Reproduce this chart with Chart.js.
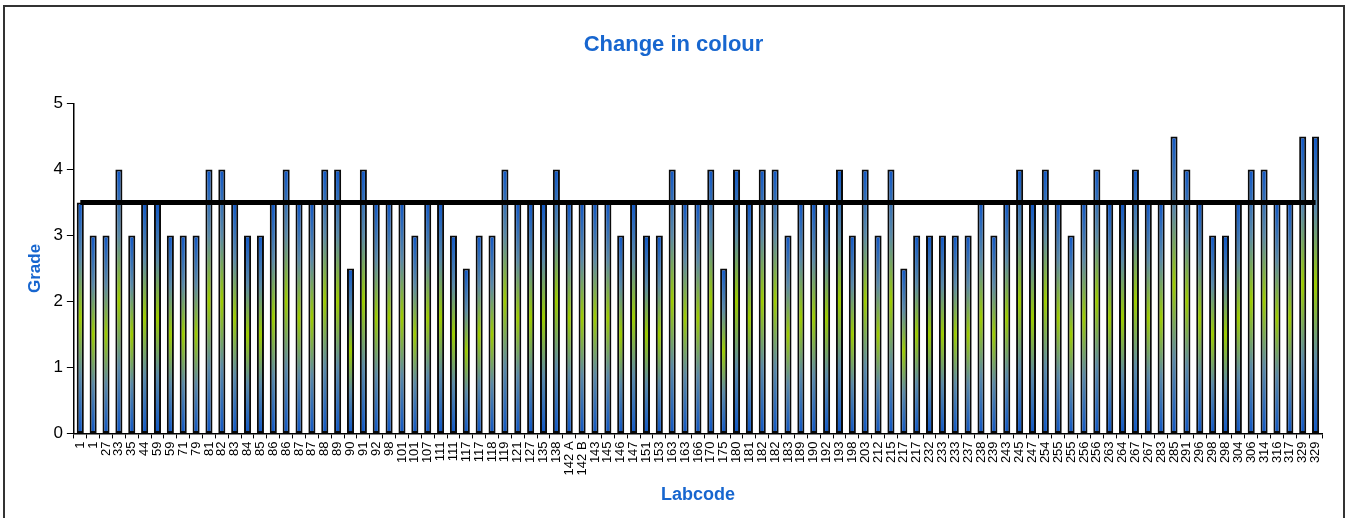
<!DOCTYPE html>
<html>
<head>
<meta charset="utf-8">
<title>Change in colour</title>
<script src="https://cdn.jsdelivr.net/npm/chart.js@4"></script>
<style>
  html, body { margin: 0; padding: 0; background: #fff; overflow: hidden; }
  #wrap { position: relative; width: 1353px; height: 518px; }
  #frame { position: absolute; left: 3px; top: 5px; width: 1342px; height: 520px; border: 2px solid #333; box-sizing: border-box; pointer-events: none; }
</style>
</head>
<body>
<div id="wrap">
  <canvas id="chart" width="1353" height="518"></canvas>
  <div id="frame"></div>
</div>
<script>
// Change in colour - grade per labcode

const labcodes = [
    '1', '1', '27', '33', '35', '44', '59', '59', '71', '79',
    '81', '82', '83', '84', '85', '86', '86', '87', '87', '88',
    '89', '90', '91', '92', '98', '101', '101', '107', '111', '111',
    '117', '117', '118', '119', '121', '127', '135', '138', '142 A', '142 B',
    '143', '145', '146', '147', '151', '153', '163', '163', '166', '170',
    '175', '180', '181', '182', '182', '183', '189', '190', '192', '193',
    '198', '203', '212', '215', '217', '217', '232', '233', '233', '237',
    '238', '239', '243', '245', '247', '254', '255', '255', '256', '256',
    '263', '264', '267', '267', '283', '285', '291', '296', '298', '298',
    '304', '306', '314', '316', '317', '329', '329'
];

const grades = [
    3.5, 3, 3, 4, 3, 3.5, 3.5, 3, 3, 3,
    4, 4, 3.5, 3, 3, 3.5, 4, 3.5, 3.5, 4,
    4, 2.5, 4, 3.5, 3.5, 3.5, 3, 3.5, 3.5, 3,
    2.5, 3, 3, 4, 3.5, 3.5, 3.5, 4, 3.5, 3.5,
    3.5, 3.5, 3, 3.5, 3, 3, 4, 3.5, 3.5, 4,
    2.5, 4, 3.5, 4, 4, 3, 3.5, 3.5, 3.5, 4,
    3, 4, 3, 4, 2.5, 3, 3, 3, 3, 3,
    3.5, 3, 3.5, 4, 3.5, 4, 3.5, 3, 3.5, 4,
    3.5, 3.5, 4, 3.5, 3.5, 4.5, 4, 3.5, 3, 3,
    3.5, 4, 4, 3.5, 3.5, 4.5, 4.5
];

// reference grade drawn as the thick black line
const targetGrade = 3.5;

const yTicks = [0, 1, 2, 3, 4, 5];

const BLUE = '#1158c6';
const GREEN = '#9ccc00';
const TITLE_BLUE = '#1766cf';
const FONT = '"Liberation Sans", Arial, sans-serif';

// Vertical gradient per bar: blue at the ends, yellow-green in the middle
function barFill(context) {
    const chart = context.chart;
    if (!chart.chartArea || context.type !== 'data') return BLUE;
    const y = chart.scales.y;
    const top = y.getPixelForValue(context.raw);
    const bottom = y.getPixelForValue(0);
    if (!isFinite(top) || !isFinite(bottom) || top === bottom) return BLUE;
    const g = chart.ctx.createLinearGradient(0, top, 0, bottom);
    g.addColorStop(0, BLUE);
    g.addColorStop(0.25, '#5a8aa8');
    g.addColorStop(0.5, GREEN);
    g.addColorStop(0.75, '#5a8aa8');
    g.addColorStop(1, BLUE);
    return g;
}

const ctx = document.getElementById('chart');

new Chart(ctx, {
    data: {
        labels: labcodes,
        datasets: [
            {
                type: 'line',
                label: 'Target',
                data: new Array(labcodes.length).fill(targetGrade),
                borderColor: '#000',
                borderWidth: 5,
                pointRadius: 0,
                order: 0
            },
            {
                type: 'bar',
                label: 'Grade',
                data: grades,
                backgroundColor: barFill,
                borderColor: '#0a0a0a',
                borderWidth: 2,
                borderSkipped: false,
                barPercentage: 0.55,
                categoryPercentage: 1,
                order: 1
            }
        ]
    },
    options: {
        responsive: false,
        animation: false,
        layout: { padding: { left: 25, right: 31, top: 0, bottom: 12 } },
        plugins: {
            legend: { display: false },
            tooltip: { enabled: false },
            title: {
                display: true,
                text: 'Change in colour',
                color: TITLE_BLUE,
                font: { family: FONT, size: 22, weight: 'bold' },
                padding: { top: 32, bottom: 45 }
            }
        },
        scales: {
            x: {
                offset: true,
                grid: {
                    offset: true,
                    drawOnChartArea: false,
                    drawTicks: true,
                    tickLength: 5,
                    color: '#000'
                },
                border: { color: '#000', width: 1.5 },
                ticks: {
                    autoSkip: false,
                    minRotation: 90,
                    maxRotation: 90,
                    padding: 3,
                    color: '#000',
                    font: { family: FONT, size: 13 }
                },
                title: {
                    display: true,
                    text: 'Labcode',
                    color: TITLE_BLUE,
                    font: { family: FONT, size: 18, weight: 'bold' },
                    padding: { top: 6, bottom: 0 }
                }
            },
            y: {
                min: 0,
                max: 5,
                afterBuildTicks: (axis) => { axis.ticks = yTicks.map(v => ({ value: v })); },
                grid: {
                    drawOnChartArea: false,
                    drawTicks: true,
                    tickLength: 7,
                    color: '#000'
                },
                border: { color: '#000', width: 1.5 },
                ticks: {
                    padding: 4,
                    color: '#000',
                    font: { family: FONT, size: 17 }
                },
                title: {
                    display: true,
                    text: 'Grade',
                    color: TITLE_BLUE,
                    font: { family: FONT, size: 17, weight: 'bold' },
                    padding: { top: 0, bottom: 4 }
                }
            }
        }
    }
});
</script>
</body>
</html>
